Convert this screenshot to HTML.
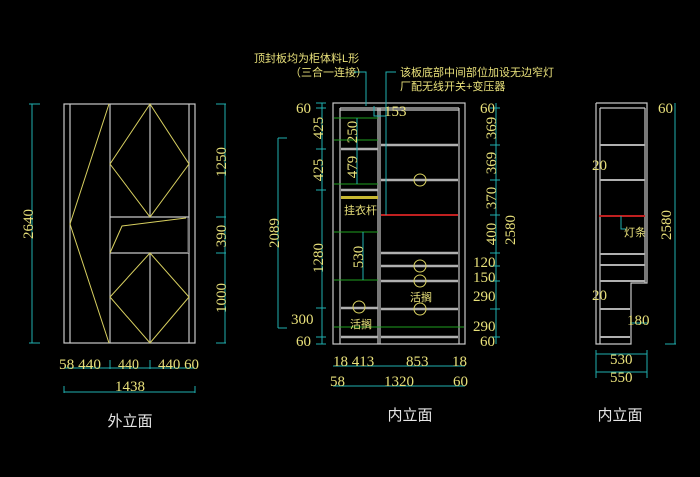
<!DOCTYPE html>
<html><head><meta charset="utf-8"><style>
html,body{margin:0;padding:0;background:#000;}
svg{display:block}
.n{font-family:"Liberation Serif",serif;font-size:15px;fill:#e8e07a}
.c{font-family:"Liberation Sans","Noto Sans CJK SC",sans-serif;font-size:11px;fill:#e8e07a}
.t{font-family:"Liberation Sans","Noto Sans CJK SC",sans-serif;font-size:15px;fill:#e6e6e6}
</style></head><body>
<svg width="700" height="477" viewBox="0 0 700 477" xmlns="http://www.w3.org/2000/svg">
<rect width="700" height="477" fill="#000"/>
<!-- LEFT ELEVATION -->
<g stroke="#c8c8c8" stroke-width="1.2" fill="none">
<rect x="64" y="104" width="131" height="239"/>
<line x1="70" y1="104" x2="70" y2="343"/>
<line x1="110" y1="104" x2="110" y2="343"/>
<line x1="150" y1="104" x2="150" y2="217"/>
<line x1="150" y1="253" x2="150" y2="343"/>
<line x1="189" y1="104" x2="189" y2="343"/>
<line x1="110" y1="217" x2="189" y2="217"/>
<line x1="110" y1="253" x2="189" y2="253"/>
</g>
<rect x="187.5" y="218" width="2.5" height="35" fill="#777"/>
<g stroke="#d8d060" stroke-width="1" fill="none">
<polyline points="109,104 70,224 109,343"/>
<polygon points="150,104 189,164 150,217 110,164"/>
<polygon points="150,253 189,297 150,343 110,297"/>
<polyline points="110,253 122,226 186,218"/>
</g>
<g stroke="#20b0b0" stroke-width="1" fill="none">
<line x1="32" y1="104" x2="32" y2="343"/>
<line x1="29" y1="104" x2="40" y2="104"/><line x1="29" y1="343" x2="40" y2="343"/>
<line x1="225" y1="104" x2="225" y2="343"/>
<line x1="216" y1="104" x2="226" y2="104"/><line x1="216" y1="217" x2="226" y2="217"/>
<line x1="216" y1="253" x2="226" y2="253"/><line x1="216" y1="343" x2="226" y2="343"/>
<line x1="64" y1="368" x2="195" y2="368"/>
<line x1="64" y1="392" x2="195" y2="392"/>
<line x1="64" y1="386" x2="64" y2="393"/><line x1="195" y1="386" x2="195" y2="393"/>
<line x1="110" y1="360" x2="110" y2="369"/><line x1="150" y1="360" x2="150" y2="369"/>
</g>
<text class="n" transform="translate(33,224) rotate(-90)" text-anchor="middle">2640</text>
<text class="n" transform="translate(226,162) rotate(-90)" text-anchor="middle">1250</text>
<text class="n" transform="translate(226,236) rotate(-90)" text-anchor="middle">390</text>
<text class="n" transform="translate(226,298) rotate(-90)" text-anchor="middle">1000</text>
<text class="n" x="59" y="369" textLength="42" lengthAdjust="spacingAndGlyphs">58 440</text>
<text class="n" x="118" y="369" textLength="21" lengthAdjust="spacingAndGlyphs">440</text>
<text class="n" x="158" y="369" textLength="41" lengthAdjust="spacingAndGlyphs">440 60</text>
<text class="n" x="130" y="391" text-anchor="middle">1438</text>
<text class="t" x="130" y="426" text-anchor="middle">外立面</text>

<!-- MIDDLE ELEVATION -->
<g stroke="#c8c8c8" stroke-width="1.2" fill="none">
<rect x="333" y="103" width="132" height="241"/>
<line x1="340" y1="108" x2="340" y2="344"/>
<line x1="459" y1="108" x2="459" y2="344"/>
<line x1="378" y1="108" x2="378" y2="344"/><line x1="380" y1="108" x2="380" y2="344"/>
<line x1="340" y1="108" x2="459" y2="108"/><line x1="340" y1="110" x2="459" y2="110"/>
</g>
<g stroke="#b0b0b0" stroke-width="2.5">
<line x1="341" y1="149" x2="378" y2="149"/>
<line x1="341" y1="190" x2="378" y2="190"/>
<line x1="341" y1="308" x2="378" y2="308"/>
<line x1="341" y1="337" x2="378" y2="337"/>
<line x1="381" y1="145" x2="458" y2="145"/>
<line x1="381" y1="180" x2="458" y2="180"/>
<line x1="381" y1="253" x2="458" y2="253"/>
<line x1="381" y1="266" x2="458" y2="266"/>
<line x1="381" y1="281" x2="458" y2="281"/>
<line x1="381" y1="309" x2="458" y2="309"/>
<line x1="381" y1="337" x2="458" y2="337"/>
</g>
<line x1="381" y1="215" x2="458" y2="215" stroke="#c02020" stroke-width="2"/>
<rect x="341" y="196" width="37" height="3" fill="#c8b830"/>
<g stroke="#20a020" stroke-width="1">
<line x1="334" y1="118" x2="378" y2="118"/>
<line x1="334" y1="140" x2="378" y2="140"/>
<line x1="334" y1="184" x2="378" y2="184"/>
<line x1="334" y1="232" x2="378" y2="232"/>
<line x1="334" y1="280" x2="378" y2="280"/>
<line x1="334" y1="327" x2="464" y2="327"/>
</g>
<g stroke="#d8d060" fill="none" stroke-width="1">
<circle cx="420" cy="180" r="6"/><circle cx="420" cy="266" r="6"/>
<circle cx="420" cy="281" r="6"/><circle cx="420" cy="309" r="6"/>
<circle cx="359" cy="307" r="6"/>
</g>
<g stroke="#20b0b0" stroke-width="1" fill="none">
<line x1="322" y1="103" x2="322" y2="344"/>
<line x1="316" y1="103" x2="326" y2="103"/><line x1="316" y1="108" x2="326" y2="108"/>
<line x1="316" y1="149" x2="326" y2="149"/><line x1="316" y1="190" x2="326" y2="190"/>
<line x1="316" y1="308" x2="326" y2="308"/><line x1="316" y1="337" x2="326" y2="337"/>
<line x1="316" y1="344" x2="326" y2="344"/>
<line x1="278" y1="138" x2="278" y2="328"/>
<line x1="278" y1="138" x2="287" y2="138"/><line x1="278" y1="328" x2="287" y2="328"/>
<line x1="357" y1="118" x2="357" y2="184"/>
<line x1="363" y1="232" x2="363" y2="280"/>
<line x1="496" y1="103" x2="496" y2="344"/>
<line x1="490" y1="108" x2="500" y2="108"/><line x1="490" y1="145" x2="500" y2="145"/>
<line x1="490" y1="180" x2="500" y2="180"/><line x1="490" y1="215" x2="500" y2="215"/>
<line x1="490" y1="253" x2="500" y2="253"/><line x1="490" y1="266" x2="500" y2="266"/>
<line x1="490" y1="281" x2="500" y2="281"/><line x1="490" y1="309" x2="500" y2="309"/>
<line x1="490" y1="337" x2="500" y2="337"/>
<line x1="333" y1="366" x2="465" y2="366"/>
<line x1="333" y1="386" x2="465" y2="386"/>
<polyline points="354,72 366,72 366,106"/>
<polyline points="374,106 374,116 386,116"/>
<polyline points="396,72 386,72 386,215"/>
</g>
<text class="c" x="254" y="62">顶封板均为柜体料L形</text>
<text class="c" x="290" y="76">（三合一连接）</text>
<text class="c" x="400" y="76">该板底部中间部位加设无边窄灯</text>
<text class="c" x="400" y="90">厂配无线开关+变压器</text>
<text class="n" x="296" y="113">60</text>
<text class="n" x="384" y="116">153</text>
<text class="n" transform="translate(323,128) rotate(-90)" text-anchor="middle">425</text>
<text class="n" transform="translate(323,170) rotate(-90)" text-anchor="middle">425</text>
<text class="n" transform="translate(323,258) rotate(-90)" text-anchor="middle">1280</text>
<text class="n" transform="translate(279,233) rotate(-90)" text-anchor="middle">2089</text>
<text class="n" transform="translate(357,132) rotate(-90)" text-anchor="middle">250</text>
<text class="n" transform="translate(357,167) rotate(-90)" text-anchor="middle">479</text>
<text class="n" transform="translate(363,257) rotate(-90)" text-anchor="middle">530</text>
<text class="n" x="291" y="324">300</text>
<text class="n" x="296" y="346">60</text>
<text class="c" x="344" y="214">挂衣杆</text>
<text class="c" x="410" y="301">活搁</text>
<text class="c" x="350" y="328">活搁</text>
<text class="n" x="480" y="113">60</text>
<text class="n" transform="translate(496,128) rotate(-90)" text-anchor="middle">369</text>
<text class="n" transform="translate(496,163) rotate(-90)" text-anchor="middle">369</text>
<text class="n" transform="translate(496,198) rotate(-90)" text-anchor="middle">370</text>
<text class="n" transform="translate(496,234) rotate(-90)" text-anchor="middle">400</text>
<text class="n" x="473" y="267">120</text>
<text class="n" x="473" y="282">150</text>
<text class="n" x="473" y="301">290</text>
<text class="n" x="473" y="331">290</text>
<text class="n" x="480" y="346">60</text>
<text class="n" transform="translate(515,230) rotate(-90)" text-anchor="middle">2580</text>
<text class="n" x="333" y="366">18 413</text>
<text class="n" x="406" y="366">853</text>
<text class="n" x="452" y="366">18</text>
<text class="n" x="330" y="386">58</text>
<text class="n" x="384" y="386">1320</text>
<text class="n" x="453" y="386">60</text>
<text class="t" x="410" y="420" text-anchor="middle">内立面</text>

<!-- RIGHT ELEVATION -->
<g stroke="#c8c8c8" stroke-width="1.2" fill="none">
<polyline points="596,103 647,103 647,283 631,283 631,344 596,344 596,103"/>
<line x1="600" y1="108" x2="600" y2="344"/>
<line x1="600" y1="108" x2="645" y2="108"/>
<line x1="645" y1="108" x2="645" y2="283"/>
<line x1="600" y1="254" x2="600" y2="254"/>
</g>
<g stroke="#b0b0b0" stroke-width="2">
<line x1="600" y1="145" x2="645" y2="145"/>
<line x1="600" y1="180" x2="645" y2="180"/>
<line x1="600" y1="254" x2="645" y2="254"/>
<line x1="600" y1="265" x2="645" y2="265"/>
<line x1="600" y1="281" x2="645" y2="281"/>
<line x1="600" y1="309" x2="630" y2="309"/>
<line x1="600" y1="337" x2="630" y2="337"/>
</g>
<line x1="599" y1="216" x2="645" y2="216" stroke="#c02020" stroke-width="2"/>
<g stroke="#20b0b0" stroke-width="1" fill="none">
<line x1="675" y1="103" x2="675" y2="344"/>
<line x1="665" y1="344" x2="676" y2="344"/>
<polyline points="621,216 621,229 626,229"/>
<line x1="630" y1="323" x2="647" y2="323"/>
<line x1="596" y1="354" x2="647" y2="354"/>
<line x1="596" y1="372" x2="647" y2="372"/>
<line x1="596" y1="350" x2="596" y2="378"/><line x1="647" y1="350" x2="647" y2="378"/>
</g>
<text class="n" x="658" y="113">60</text>
<text class="n" transform="translate(671,225) rotate(-90)" text-anchor="middle">2580</text>
<text class="n" x="592" y="170">20</text>
<text class="n" x="592" y="300">20</text>
<text class="n" x="627" y="325">180</text>
<text class="c" x="624" y="236">灯条</text>
<text class="n" x="610" y="364">530</text>
<text class="n" x="610" y="382">550</text>
<text class="t" x="620" y="420" text-anchor="middle">内立面</text>
</svg>
</body></html>
